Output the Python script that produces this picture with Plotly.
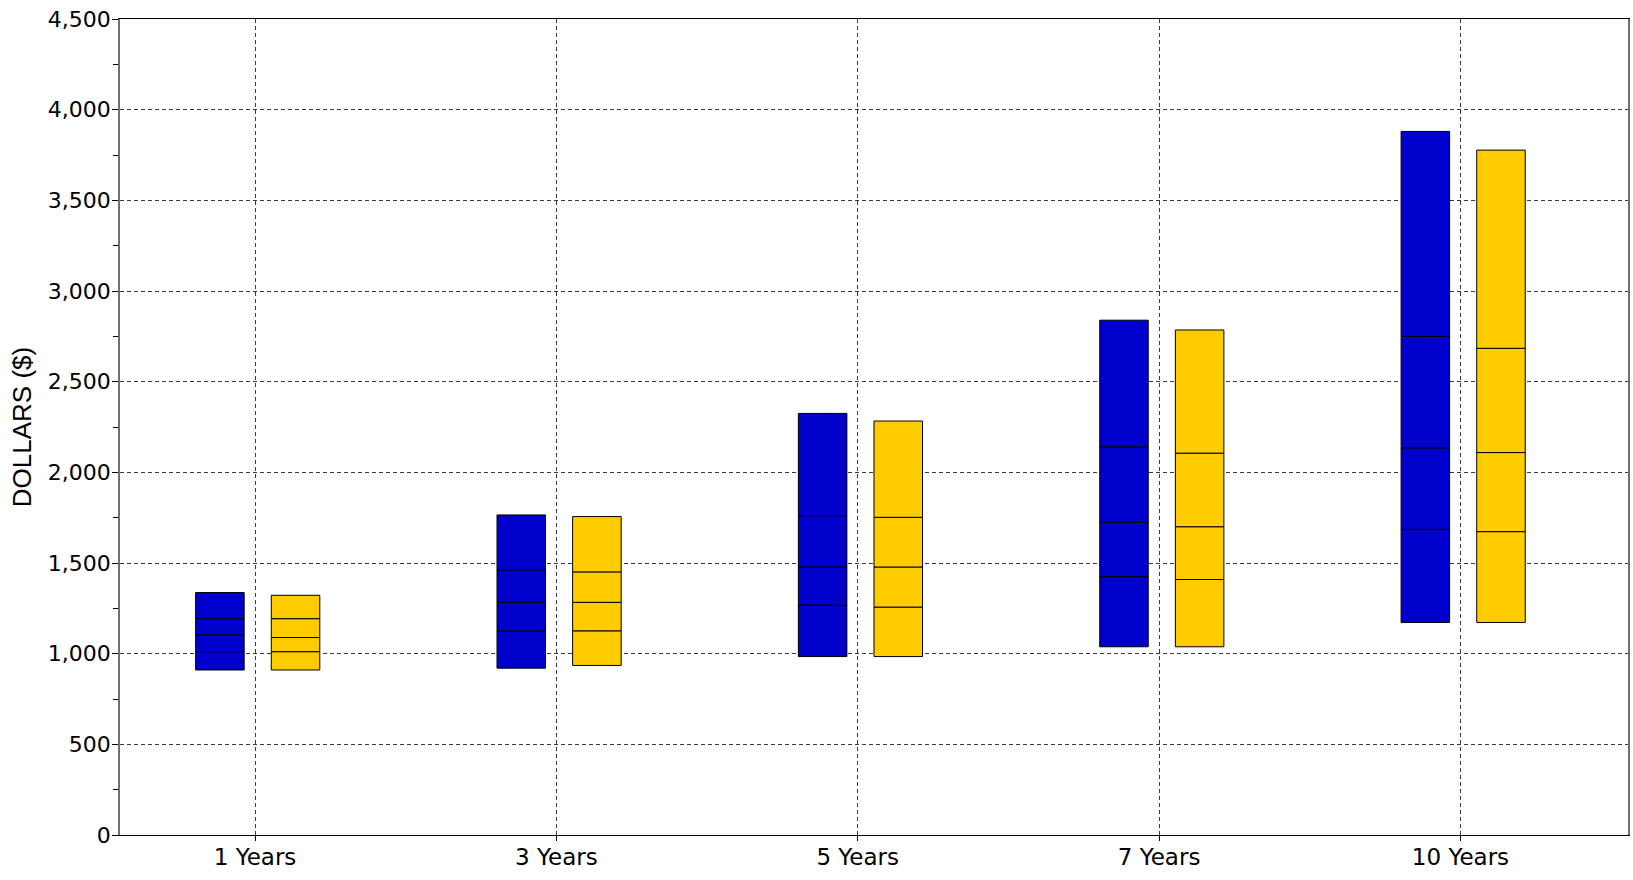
import plotly.graph_objects as go

categories = ["1 Years", "3 Years", "5 Years", "7 Years", "10 Years"]

# Percentile levels (bottom to top)
blue_p5 = [910, 920, 984, 1038, 1172]
blue_p25 = [1011, 1126, 1268, 1425, 1686]
blue_p50 = [1104, 1283, 1478, 1724, 2135]
blue_p75 = [1193, 1462, 1761, 2141, 2749]
blue_p95 = [1337, 1765, 2325, 2839, 3880]

gold_p5 = [910, 935, 984, 1038, 1172]
gold_p25 = [1011, 1126, 1257, 1409, 1673]
gold_p50 = [1089, 1283, 1478, 1700, 2109]
gold_p75 = [1193, 1451, 1752, 2106, 2684]
gold_p95 = [1322, 1756, 2283, 2785, 3777]

y_tickvals = [0, 500, 1000, 1500, 2000, 2500, 3000, 3500, 4000, 4500]
y_ticktext = ["0", "500", "1,000", "1,500", "2,000", "2,500", "3,000", "3,500", "4,000", "4,500"]


def segments(levels):
    xs, bases, heights = [], [], []
    for i, cat in enumerate(categories):
        for k in range(len(levels) - 1):
            xs.append(cat)
            bases.append(levels[k][i])
            heights.append(levels[k + 1][i] - levels[k][i])
    return xs, bases, heights


fig = go.Figure()

for levels, color, offset, name in [
    ([blue_p5, blue_p25, blue_p50, blue_p75, blue_p95], "#0000CC", -0.197, "A"),
    ([gold_p5, gold_p25, gold_p50, gold_p75, gold_p95], "#FFCC00", 0.054, "B"),
]:
    xs, bases, heights = segments(levels)
    fig.add_trace(go.Bar(
        x=xs, y=heights, base=bases, name=name,
        offset=offset, width=0.161,
        marker=dict(color=color, line=dict(color="#000000", width=1)),
        showlegend=False,
    ))

tick_family = "DejaVu Sans, Liberation Sans, sans-serif"
title_family = "Liberation Sans, Arial, sans-serif"

fig.update_layout(
    width=1633, height=880,
    margin=dict(l=120, r=3, t=19, b=45),
    paper_bgcolor="white", plot_bgcolor="white",
    barmode="overlay",
    font=dict(family=tick_family, color="#000000"),
    showlegend=False,
)

fig.update_xaxes(
    type="category",
    categoryorder="array", categoryarray=categories,
    range=[-0.448, 4.556],
    showline=True, linecolor="#000000", linewidth=1, mirror=True,
    ticks="outside", ticklen=5, tickcolor="#000000",
    ticklabelstandoff=-4,
    showgrid=True, gridcolor="#3a3a3a", gridwidth=1, griddash="4px,3px",
    tickfont=dict(size=23, family=tick_family, color="#000000"),
    zeroline=False,
)

fig.update_yaxes(
    range=[0, 4500],
    tickmode="array", tickvals=y_tickvals, ticktext=y_ticktext,
    showline=True, linecolor="#707070", linewidth=1.5, mirror=True,
    ticks="outside", ticklen=6, tickcolor="#000000",
    ticklabelstandoff=-3,
    minor=dict(dtick=250, ticks="outside", ticklen=5, tickcolor="#000000", showgrid=False),
    showgrid=True, gridcolor="#3a3a3a", gridwidth=1, griddash="4px,3px",
    tickfont=dict(size=22, family=tick_family, color="#000000"),
    title=dict(text="DOLLARS ($)", font=dict(size=26, family=title_family, color="#000000"), standoff=9),
    zeroline=False,
)

fig.write_html(
    "out.html",
    config={"displayModeBar": False},
    post_script="document.body.style.margin='0';",
)
